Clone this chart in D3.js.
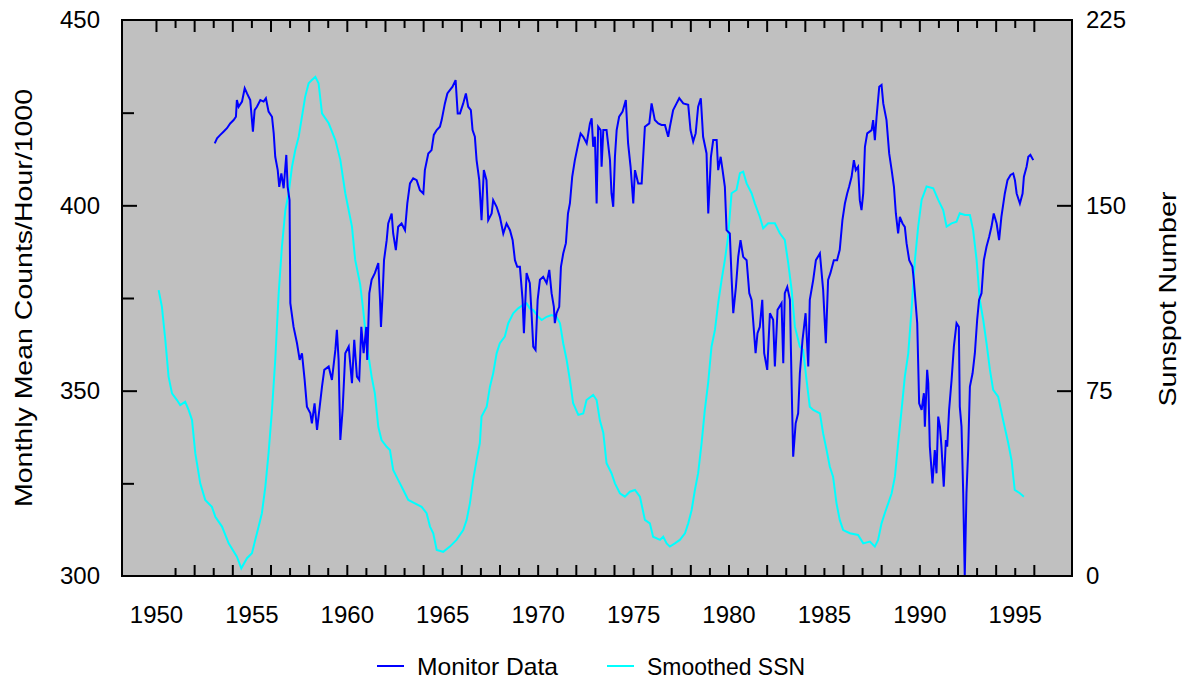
<!DOCTYPE html>
<html>
<head>
<meta charset="utf-8">
<script src="https://cdn.jsdelivr.net/npm/d3@7"></script>
<style>
  body { margin: 0; background: #fff; }
  svg text { font-family: "Liberation Sans", Arial, sans-serif; fill: #000; }
</style>
</head>
<body>
<div id="chart"></div>
<script>
// Neutron monitor counts vs smoothed sunspot number

// monitor data: [year, monthly mean counts/hour/1000]
var monitorData = [
  [1953.08,416.7],[1953.20,418.1],[1953.37,419],[1953.55,419.9],[1953.72,420.8],[1953.89,422.1],
  [1954.07,423],[1954.19,423.9],[1954.24,428.4],[1954.33,426.6],[1954.51,428],[1954.65,431.6],
  [1954.77,430.2],[1954.94,428.4],[1955.08,419.9],[1955.17,425.7],[1955.29,426.6],[1955.47,428.4],
  [1955.64,428],[1955.76,428.9],[1955.90,425.3],[1956.08,423.9],[1956.17,419.4],[1956.25,413.1],
  [1956.38,409.5],[1956.46,405],[1956.57,408.6],[1956.69,404.6],[1956.83,413.6],[1956.90,405],
  [1957.00,401.4],[1957.04,373.6],[1957.21,367.2],[1957.39,362.8],[1957.53,358.3],[1957.65,360.1],
  [1957.79,352.9],[1957.91,345.7],[1958.09,343.9],[1958.17,341.2],[1958.31,346.6],[1958.44,339.4],
  [1958.56,344.8],[1958.70,351.1],[1958.82,355.6],[1959.05,356.5],[1959.22,352.9],[1959.40,361],
  [1959.48,366.4],[1959.57,358.3],[1959.66,336.7],[1959.78,344.8],[1959.92,360.1],[1960.10,361.9],
  [1960.27,352],[1960.39,363.7],[1960.53,353.8],[1960.65,352.9],[1960.76,367.2],[1960.88,360.1],
  [1961.02,367.2],[1961.07,358.3],[1961.18,376.3],[1961.30,379.9],[1961.47,381.7],[1961.65,384.4],
  [1961.74,374.5],[1961.79,367.2],[1961.88,376.3],[1961.95,385.2],[1962.09,390.6],[1962.17,395.1],
  [1962.35,397.8],[1962.43,392.4],[1962.57,387.9],[1962.69,394.2],[1962.87,395.1],[1963.05,393.3],
  [1963.17,400.5],[1963.31,405.9],[1963.48,407.3],[1963.66,406.8],[1963.83,404.1],[1964.01,403.2],
  [1964.09,409.5],[1964.27,414],[1964.44,414.9],[1964.56,419],[1964.71,420.3],[1964.88,421.2],
  [1964.97,423],[1965.14,427.5],[1965.27,430.2],[1965.40,431.1],[1965.54,432],[1965.70,433.8],
  [1965.81,424.8],[1965.93,424.8],[1966.10,427.5],[1966.24,430.2],[1966.36,426.6],[1966.50,425.7],
  [1966.59,420.3],[1966.71,418.5],[1966.80,412.2],[1966.94,406.8],[1967.06,396],[1967.18,409.5],
  [1967.32,406.8],[1967.41,396],[1967.59,397.8],[1967.67,401.4],[1967.85,399.6],[1968.02,396.9],
  [1968.20,392.4],[1968.37,395.1],[1968.55,393.3],[1968.69,390.6],[1968.81,385.2],[1968.93,383.4],
  [1969.07,383.4],[1969.21,374.5],[1969.28,365.5],[1969.42,381.7],[1969.59,379],[1969.68,370.9],
  [1969.77,361.9],[1969.89,361],[1970.00,374.5],[1970.12,379.9],[1970.29,380.7],[1970.47,379],
  [1970.61,382.6],[1970.73,376.3],[1970.85,372.6],[1970.90,368.2],[1970.99,370.9],[1971.13,372.6],
  [1971.22,383.4],[1971.34,387],[1971.48,389.8],[1971.59,397.8],[1971.69,400.5],[1971.81,407.7],
  [1971.95,412.2],[1972.13,416.7],[1972.25,419.4],[1972.39,418.5],[1972.57,416.7],[1972.74,422.1],
  [1972.83,423.5],[1972.91,415.8],[1973.00,418.5],[1973.09,400.5],[1973.17,421.2],[1973.30,420.3],
  [1973.35,410.4],[1973.44,420.3],[1973.61,420.3],[1973.79,412.2],[1973.87,403.2],[1973.96,399.6],
  [1974.05,413.1],[1974.14,420.3],[1974.27,423.9],[1974.45,425.3],[1974.62,428.4],[1974.74,416.7],
  [1974.87,410.4],[1975.01,400.5],[1975.10,409.5],[1975.27,405.9],[1975.45,405.9],[1975.53,413.1],
  [1975.62,421.2],[1975.85,422.1],[1975.97,427.5],[1976.14,423],[1976.32,422.1],[1976.49,421.7],
  [1976.67,421.7],[1976.84,418.5],[1976.93,421.2],[1977.10,425.7],[1977.28,427.5],[1977.42,428.9],
  [1977.63,427.5],[1977.89,427.1],[1978.01,420.3],[1978.15,417.2],[1978.28,419.4],[1978.41,426.6],
  [1978.55,428.9],[1978.67,418.5],[1978.85,414],[1978.94,397.8],[1979.08,413.1],[1979.20,417.6],
  [1979.38,417.6],[1979.46,409.5],[1979.59,413.1],[1979.69,409.5],[1979.81,405],[1979.90,393.3],
  [1980.07,392.4],[1980.16,380.7],[1980.25,370.9],[1980.39,378],[1980.51,386.1],[1980.63,390.6],
  [1980.77,386.1],[1980.95,385.2],[1981.09,376.3],[1981.21,374.5],[1981.29,369.1],[1981.42,360.1],
  [1981.52,365.5],[1981.64,367.2],[1981.77,374.5],[1981.87,360.1],[1982.03,355.6],[1982.17,370.9],
  [1982.34,369.1],[1982.43,356.5],[1982.57,371.8],[1982.78,373.6],[1982.87,357.4],[1982.95,376.3],
  [1983.08,378],[1983.22,374.5],[1983.31,351.1],[1983.39,332.2],[1983.52,341.2],[1983.65,343.9],
  [1983.74,354.7],[1983.88,363.7],[1984.04,370.9],[1984.18,356.5],[1984.26,374.5],[1984.44,379.9],
  [1984.58,385.2],[1984.79,387],[1984.96,377.2],[1985.10,362.8],[1985.22,379.9],[1985.34,381.7],
  [1985.52,385.2],[1985.69,385.2],[1985.83,388],[1985.97,396],[1986.10,400.5],[1986.22,403.2],
  [1986.32,405],[1986.45,407.7],[1986.57,412.2],[1986.67,409.5],[1986.79,410.4],[1986.88,401.4],
  [1986.97,398.7],[1987.06,403.2],[1987.15,415.8],[1987.27,419.4],[1987.50,420.3],[1987.58,423],
  [1987.67,417.6],[1987.76,423.9],[1987.90,432],[1988.02,432.5],[1988.11,427.5],[1988.28,423],
  [1988.42,414],[1988.55,409.5],[1988.67,405],[1988.77,397.8],[1988.89,392.4],[1988.98,396.9],
  [1989.12,395.1],[1989.24,394.2],[1989.33,389.8],[1989.47,385.2],[1989.64,383.4],[1989.71,379.9],
  [1989.89,368.2],[1989.99,346.6],[1990.12,344.8],[1990.24,349.3],[1990.29,340.3],[1990.41,355.6],
  [1990.47,352],[1990.55,334.9],[1990.69,325],[1990.81,334],[1990.90,327.7],[1990.99,343],
  [1991.08,340.3],[1991.16,334.9],[1991.28,324.1],[1991.39,336.7],[1991.46,334.9],[1991.56,344.8],
  [1991.69,352.9],[1991.81,361.9],[1991.95,368.2],[1992.07,367.2],[1992.12,345.7],[1992.21,340.3],
  [1992.30,322.3],[1992.38,299.8],[1992.47,322.3],[1992.56,334],[1992.65,351.1],[1992.79,354.7],
  [1992.91,360.1],[1993.03,369.1],[1993.13,374.5],[1993.26,376.3],[1993.38,385.2],[1993.52,388.8],
  [1993.66,391.5],[1993.78,394.2],[1993.90,397.8],[1994.05,395.1],[1994.18,390.6],[1994.30,396.9],
  [1994.48,403.2],[1994.62,406.8],[1994.78,408.2],[1994.92,408.6],[1995.01,406.8],[1995.10,403.2],
  [1995.27,400.5],[1995.41,403.2],[1995.48,407.7],[1995.62,410.4],[1995.71,413.1],[1995.82,413.6],
  [1995.97,412.2]
];

// smoothed sunspot number: [year, SSN]
var ssnData = [
  [1950.14,115.7],[1950.31,109],[1950.49,95.5],[1950.66,80.7],[1950.84,73.9],[1951.10,71.2],
  [1951.27,69.2],[1951.53,70.5],[1951.71,67.2],[1951.89,63.1],[1952.06,49.7],[1952.32,37.5],
  [1952.58,30.8],[1952.93,28],[1953.11,24],[1953.46,20],[1953.81,13.2],[1954.24,7.8],
  [1954.47,3.1],[1954.77,7.2],[1955.03,9.2],[1955.20,14.6],[1955.38,20],[1955.55,25.4],
  [1955.73,36.1],[1955.90,49.7],[1956.08,67.2],[1956.25,87.4],[1956.43,114.4],[1956.60,133.3],
  [1956.78,148.1],[1956.95,154.9],[1957.13,165.7],[1957.30,172.4],[1957.48,177.8],[1957.65,185.9],
  [1957.82,194],[1958.00,199.4],[1958.17,200.7],[1958.35,202],[1958.52,199.4],[1958.70,187.2],
  [1959.05,183.2],[1959.40,176.4],[1959.66,168.4],[1959.92,154.9],[1960.27,141.4],[1960.44,127.9],
  [1960.70,118],[1960.86,107.6],[1961.04,94.2],[1961.30,80.7],[1961.47,73.9],[1961.65,60.4],
  [1961.82,55],[1962.09,52.3],[1962.26,51],[1962.43,42.9],[1962.69,38.9],[1962.96,34.8],
  [1963.22,30.8],[1963.57,29.4],[1963.92,28],[1964.18,25.4],[1964.36,20],[1964.53,17.3],
  [1964.71,10.5],[1965.05,9.8],[1965.40,11.9],[1965.75,14.6],[1966.10,18.6],[1966.28,22.7],
  [1966.45,29.4],[1966.62,38.9],[1966.80,46.9],[1966.97,53.7],[1967.06,64.5],[1967.33,68.5],
  [1967.50,76.6],[1967.67,82],[1967.85,90.1],[1968.02,94.2],[1968.28,96.9],[1968.46,102.3],
  [1968.72,106.3],[1968.98,108.3],[1969.24,109.7],[1969.42,110.4],[1969.59,108.3],[1969.77,107.6],
  [1970.03,104.9],[1970.21,103.6],[1970.47,104.9],[1970.73,105.6],[1970.99,104.9],[1971.17,102.3],
  [1971.34,94.2],[1971.52,87.4],[1971.69,79.3],[1971.86,69.9],[1972.13,65.2],[1972.39,65.8],
  [1972.56,71.2],[1972.91,73.3],[1973.09,71.2],[1973.26,63],[1973.44,58],[1973.61,45.6],
  [1973.87,41.6],[1974.05,37.5],[1974.31,33.5],[1974.57,32.1],[1974.83,34.1],[1975.10,34.8],
  [1975.36,32.1],[1975.62,22.7],[1975.88,21.3],[1976.05,15.9],[1976.41,14.6],[1976.58,15.9],
  [1976.76,13.2],[1976.93,11.9],[1977.19,13.2],[1977.45,14.6],[1977.72,17.3],[1977.89,21.3],
  [1978.07,26.7],[1978.24,34.8],[1978.41,41.6],[1978.59,53.7],[1978.76,67.2],[1978.94,78.6],
  [1979.11,92.8],[1979.29,99.6],[1979.46,110.4],[1979.64,119.8],[1979.81,127.9],[1979.98,137.3],
  [1980.16,154.9],[1980.42,156.2],[1980.60,163],[1980.77,163.6],[1980.95,158.9],[1981.21,154.9],
  [1981.38,150.8],[1981.64,145.4],[1981.82,140.7],[1982.08,142.7],[1982.43,142.7],[1982.69,138.7],
  [1982.95,136],[1983.13,126.6],[1983.31,115.7],[1983.48,100.9],[1983.74,92.8],[1983.91,91.5],
  [1984.09,79.3],[1984.26,68.5],[1984.44,67.2],[1984.79,65.8],[1984.96,57.7],[1985.14,51],
  [1985.31,44.2],[1985.48,40.2],[1985.66,29.4],[1985.83,22.7],[1986.01,18.6],[1986.36,17.3],
  [1986.79,16.6],[1987.06,13.2],[1987.41,13.9],[1987.67,11.9],[1987.84,14.6],[1988.02,21.3],
  [1988.19,25.4],[1988.37,29.4],[1988.55,33.5],[1988.72,40.2],[1988.89,53.7],[1989.07,67.2],
  [1989.24,80.7],[1989.42,90.1],[1989.59,107.6],[1989.77,127.9],[1989.94,141.4],[1990.12,152.2],
  [1990.38,157.6],[1990.73,156.9],[1990.99,152.2],[1991.25,148.1],[1991.43,141.4],[1991.69,142.7],
  [1991.95,143.4],[1992.12,146.8],[1992.39,146.1],[1992.65,146.1],[1992.82,140],[1993.00,127.9],
  [1993.17,111.7],[1993.35,103.6],[1993.52,94.2],[1993.70,83.4],[1993.87,75.3],[1994.13,72.6],
  [1994.39,63.1],[1994.66,53.7],[1994.83,46.9],[1995.00,34.8],[1995.27,33.5],[1995.48,32.1]
];

var xLabelYears = [1950, 1955, 1960, 1965, 1970, 1975, 1980, 1985, 1990, 1995];
var xLabelText = ["1950", "1955", "1960", "1965", "1970", "1975", "1980", "1985", "1990", "1995"];
var leftLabels = [300, 350, 400, 450];
var leftMinor = [325, 375, 425];
var leftMajor = [350, 400];
var rightLabels = [0, 75, 150, 225];
var rightTicks = [75, 150];
var seriesNames = ["Monitor Data", "Smoothed SSN"];
var seriesColors = ["#0000ff", "#00ffff"];

var svgWidth = 1186;
var svgHeight = 682;
var plot = { left: 122, right: 1072, top: 20, bottom: 576 };

var svg = d3.select("#chart").append("svg")
    .attr("width", svgWidth)
    .attr("height", svgHeight);

var x = d3.scaleLinear().domain([1948.22, 1998.0]).range([plot.left, plot.right]);
var yLeft = d3.scaleLinear().domain([300, 450]).range([plot.bottom, plot.top]);
var yRight = d3.scaleLinear().domain([0, 225]).range([plot.bottom, plot.top]);

// grey plot background
svg.append("rect")
    .attr("x", plot.left).attr("y", plot.top)
    .attr("width", plot.right - plot.left).attr("height", plot.bottom - plot.top)
    .attr("fill", "#c0c0c0");

svg.append("clipPath").attr("id", "clip")
  .append("rect")
    .attr("x", plot.left).attr("y", plot.top)
    .attr("width", plot.right - plot.left).attr("height", plot.bottom - plot.top + 1);

var lines = svg.append("g").attr("clip-path", "url(#clip)");

var ssnLine = d3.line().x(d => x(d[0])).y(d => yRight(d[1]));
var monLine = d3.line().x(d => x(d[0])).y(d => yLeft(d[1]));

lines.append("path")
    .datum(ssnData)
    .attr("d", ssnLine)
    .attr("fill", "none")
    .attr("stroke", seriesColors[1])
    .attr("stroke-width", 2);

lines.append("path")
    .datum(monitorData)
    .attr("d", monLine)
    .attr("fill", "none")
    .attr("stroke", seriesColors[0])
    .attr("stroke-width", 2);

// tick helper: draws only tick lines, no domain
function tickOnly(axis, g) {
    g.call(axis);
    g.select(".domain").remove();
    g.selectAll("line").attr("stroke", "#000").attr("stroke-width", 2);
}

var evenYears = d3.range(1950, 1997, 2);
var oddYears = d3.range(1951, 1996, 2);

// top ticks (pointing down)
tickOnly(d3.axisBottom(x).tickValues(evenYears).tickSize(12).tickFormat(""),
    svg.append("g").attr("transform", `translate(0, ${plot.top})`));
tickOnly(d3.axisBottom(x).tickValues(oddYears).tickSize(8).tickFormat(""),
    svg.append("g").attr("transform", `translate(0, ${plot.top})`));

// bottom ticks (pointing up), start at 1951
tickOnly(d3.axisTop(x).tickValues(evenYears.slice(1)).tickSize(11).tickFormat(""),
    svg.append("g").attr("transform", `translate(0, ${plot.bottom})`));
tickOnly(d3.axisTop(x).tickValues(oddYears).tickSize(8).tickFormat(""),
    svg.append("g").attr("transform", `translate(0, ${plot.bottom})`));

// left ticks (pointing right)
tickOnly(d3.axisRight(yLeft).tickValues(leftMajor).tickSize(15).tickFormat(""),
    svg.append("g").attr("transform", `translate(${plot.left}, 0)`));
tickOnly(d3.axisRight(yLeft).tickValues(leftMinor).tickSize(12).tickFormat(""),
    svg.append("g").attr("transform", `translate(${plot.left}, 0)`));

// right ticks (pointing left)
tickOnly(d3.axisLeft(yRight).tickValues(rightTicks).tickSize(15).tickFormat(""),
    svg.append("g").attr("transform", `translate(${plot.right}, 0)`));

// border
svg.append("rect")
    .attr("x", plot.left).attr("y", plot.top)
    .attr("width", plot.right - plot.left).attr("height", plot.bottom - plot.top)
    .attr("fill", "none")
    .attr("stroke", "#000")
    .attr("stroke-width", 2);

// labels
function labelAxis(axis, g) {
    g.call(axis);
    g.select(".domain").remove();
    g.selectAll("line").remove();
    g.selectAll("text")
        .attr("font-size", 24)
        .attr("font-family", "'Liberation Sans', Arial, sans-serif")
        .attr("fill", "#000");
}

labelAxis(d3.axisBottom(x).tickValues(xLabelYears).tickSize(0).tickPadding(30)
        .tickFormat((d, i) => xLabelText[i]),
    svg.append("g").attr("transform", `translate(0, ${plot.bottom})`));

labelAxis(d3.axisLeft(yLeft).tickValues(leftLabels).tickSize(0).tickPadding(22),
    svg.append("g").attr("transform", `translate(${plot.left}, 0)`));

labelAxis(d3.axisRight(yRight).tickValues(rightLabels).tickSize(0).tickPadding(14),
    svg.append("g").attr("transform", `translate(${plot.right}, 0)`));

// axis titles
svg.append("text")
    .attr("transform", "translate(23, 298) rotate(-90)")
    .attr("text-anchor", "middle")
    .attr("dominant-baseline", "central")
    .attr("font-size", 24)
    .attr("textLength", 418)
    .attr("lengthAdjust", "spacingAndGlyphs")
    .text("Monthly Mean Counts/Hour/1000");

svg.append("text")
    .attr("transform", "translate(1167, 299) rotate(-90)")
    .attr("text-anchor", "middle")
    .attr("dominant-baseline", "central")
    .attr("font-size", 24)
    .attr("textLength", 215)
    .attr("lengthAdjust", "spacingAndGlyphs")
    .text("Sunspot Number");

// legend
var legendX = [377, 607];
var legendW = [141, 158];
var legend = svg.append("g").attr("transform", "translate(0, 666)");
seriesNames.forEach(function(name, i) {
    legend.append("line")
        .attr("x1", legendX[i]).attr("x2", legendX[i] + 27)
        .attr("y1", 0).attr("y2", 0)
        .attr("stroke", seriesColors[i])
        .attr("stroke-width", 2);
    legend.append("text")
        .attr("x", legendX[i] + 40)
        .attr("y", 0)
        .attr("dominant-baseline", "central")
        .attr("font-size", 24)
        .attr("textLength", legendW[i])
        .attr("lengthAdjust", "spacingAndGlyphs")
        .text(name);
});
</script>
</body>
</html>
